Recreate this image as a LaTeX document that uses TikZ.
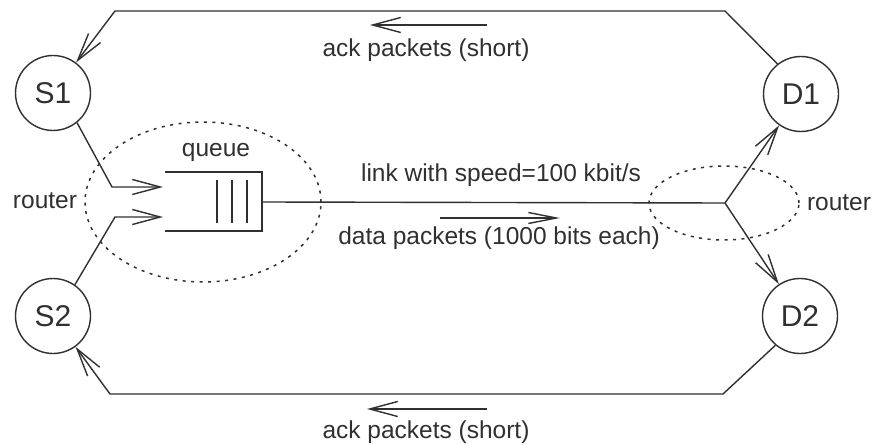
\documentclass[tikz,border=0pt]{standalone}
\usepackage{fontspec}
\setmainfont{Liberation Sans}
\usetikzlibrary{arrows.meta}
\definecolor{ink}{HTML}{303030}
\begin{document}
\begin{tikzpicture}[x=1pt,y=-1pt,
  every node/.style={font=\fontsize{24.5}{28}\selectfont, text=ink},
  host/.style={circle, draw=ink, line width=1.4pt, minimum size=75pt, inner sep=0pt, font=\fontsize{30}{34}\selectfont},
  wire/.style={draw=ink, line width=1.4pt},
  tip/.style={-{Straight Barb[length=28pt,width=15pt]}},
  thintip/.style={-{Straight Barb[length=28pt,width=11pt]}},
  routerline/.style={draw=ink, line width=1.5pt, dash pattern=on 3pt off 5.5pt},
  lbl/.style={anchor=base, inner sep=0pt}]
\useasboundingbox (0,0) rectangle (872,446);
% hosts
\node[host] (S1) at (53,93) {S1};
\node[host] (S2) at (53,316) {S2};
\node[host] (D1) at (801,94) {D1};
\node[host] (D2) at (800,316) {D2};
% bend points
\coordinate (tl) at (115,11);
\coordinate (tr) at (725,11);
\coordinate (bl) at (110,394);
\coordinate (br) at (723,394);
\coordinate (s1k) at (112,187);
\coordinate (s2k) at (115,217);
\coordinate (qin1) at (163,187);
\coordinate (qin2) at (163,217);
\coordinate (qout) at (262,202);
\coordinate (fork) at (725,203);
% router regions
\draw[routerline] (203,202) ellipse [x radius=118pt, y radius=80pt];
\draw[routerline] (724,203) ellipse [x radius=75pt, y radius=37pt];
% ack paths
\draw[wire,tip] (D1.128) -- (tr) -- (tl) -- (S1);
\draw[wire,tip] (D2.230) -- (br) -- (bl) -- (S2);
% sources into queue
\draw[wire,tip] (S1.309) -- (s1k) -- (qin1);
\draw[wire,tip] (S2.55) -- (s2k) -- (qin2);
% queue
\draw[wire] (165,172) -- (262,172) -- (262,231) -- (165,231);
\draw[wire] (217,180) -- (217,223);
\draw[wire] (232,180) -- (232,223);
\draw[wire] (247,180) -- (247,223);
% link and fork
\draw[wire] (qout) -- (fork);
\draw[wire,tip] (fork) -- (D1);
\draw[wire,tip] (fork) -- (D2);
% direction arrows
\coordinate (a1s) at (487,25); \coordinate (a1e) at (370,25);
\coordinate (a2s) at (487,409); \coordinate (a2e) at (367,409);
\coordinate (a3s) at (440,218); \coordinate (a3e) at (560,218);
\draw[wire,tip] (a1s) -- (a1e);
\draw[wire,tip] (a2s) -- (a2e);
\draw[wire,thintip] (a3s) -- (a3e);
% labels
\node[lbl] (ackt) at (426,57) {ack packets (short)};
\node[lbl] (ackb) at (426,438) {ack packets (short)};
\node[lbl] (qlbl) at (216,157) {queue};
\node[lbl] (linkl) at (501,182) {link with speed=100 kbit/s};
\node[lbl] (datal) at (499,245) {data packets (1000 bits each)};
\node[lbl] (rl) at (45,209) {router};
\node[lbl] (rr) at (839,211) {router};
\end{tikzpicture}
\end{document}
